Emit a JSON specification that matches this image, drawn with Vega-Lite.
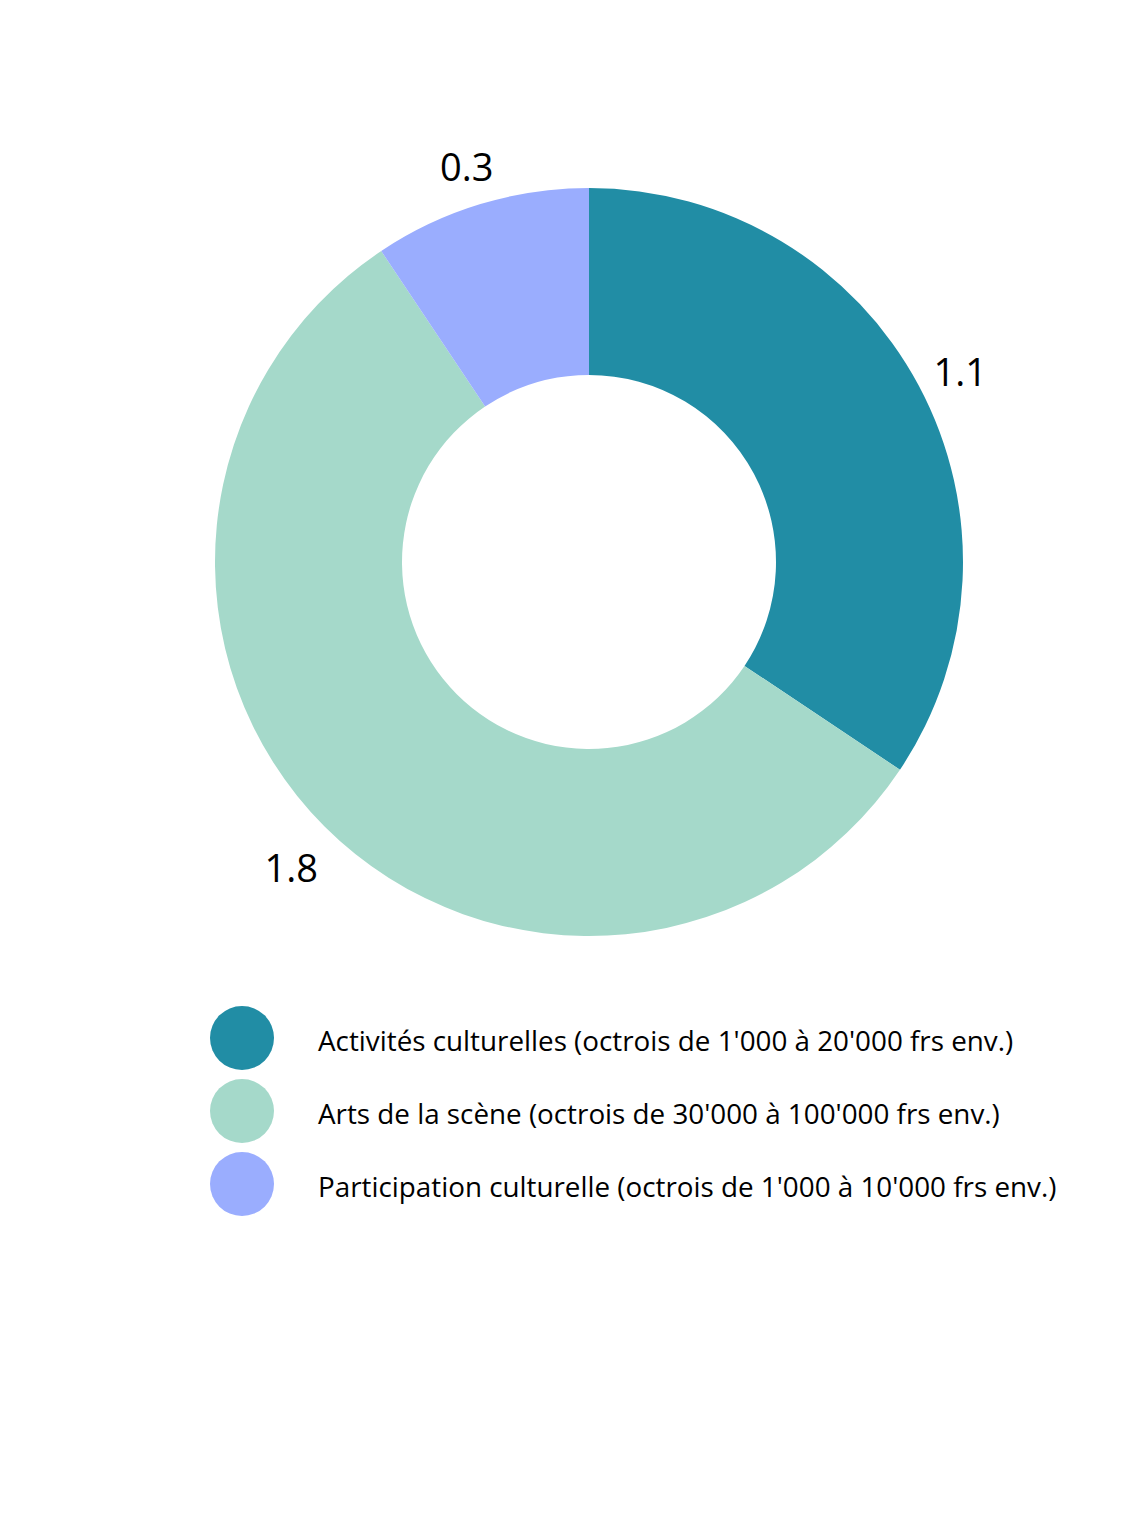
{
  "$schema": "https://vega.github.io/schema/vega-lite/v6.json",
  "width": 1056,
  "height": 1124,
  "autosize": "none",
  "padding": {"left": 61, "top": 0, "right": 6, "bottom": 389},
  "background": "white",
  "config": {"view": {"stroke": null}, "font": "Open Sans"},
  "data": {
    "values": [
      {"order": 1, "category": "Activités culturelles (octrois de 1'000 à 20'000 frs env.)", "value": 1.1},
      {"order": 2, "category": "Arts de la scène (octrois de 30'000 à 100'000 frs env.)", "value": 1.8},
      {"order": 3, "category": "Participation culturelle (octrois de 1'000 à 10'000 frs env.)", "value": 0.3}
    ]
  },
  "encoding": {
    "theta": {"field": "value", "type": "quantitative", "stack": true},
    "order": {"field": "order", "type": "quantitative"},
    "color": {
      "field": "category",
      "type": "nominal",
      "sort": {"field": "order"},
      "scale": {
        "domain": [
          "Activités culturelles (octrois de 1'000 à 20'000 frs env.)",
          "Arts de la scène (octrois de 30'000 à 100'000 frs env.)",
          "Participation culturelle (octrois de 1'000 à 10'000 frs env.)"
        ],
        "range": ["#218DA5", "#A5D9CA", "#9AADFE"]
      },
      "legend": {
        "title": null,
        "orient": "none",
        "legendX": 149,
        "legendY": 1006,
        "padding": 0,
        "symbolType": "circle",
        "symbolSize": 4096,
        "symbolStrokeWidth": 0,
        "symbolOpacity": 1,
        "rowPadding": 9,
        "labelOffset": 44,
        "labelFontSize": 27.8,
        "labelFont": "Open Sans",
        "labelColor": "#000000",
        "labelLimit": 1000,
        "encode": {"labels": {"update": {"dy": {"value": 5}}}}
      }
    }
  },
  "layer": [
    {
      "mark": {"type": "arc", "innerRadius": 187, "outerRadius": 374}
    },
    {
      "mark": {"type": "text", "radius": 421, "dy": 11, "fontSize": 38, "font": "Open Sans", "color": "#000000"},
      "encoding": {
        "text": {"field": "value", "type": "quantitative", "format": ".1f"},
        "color": {"value": "#000000"}
      }
    }
  ]
}
